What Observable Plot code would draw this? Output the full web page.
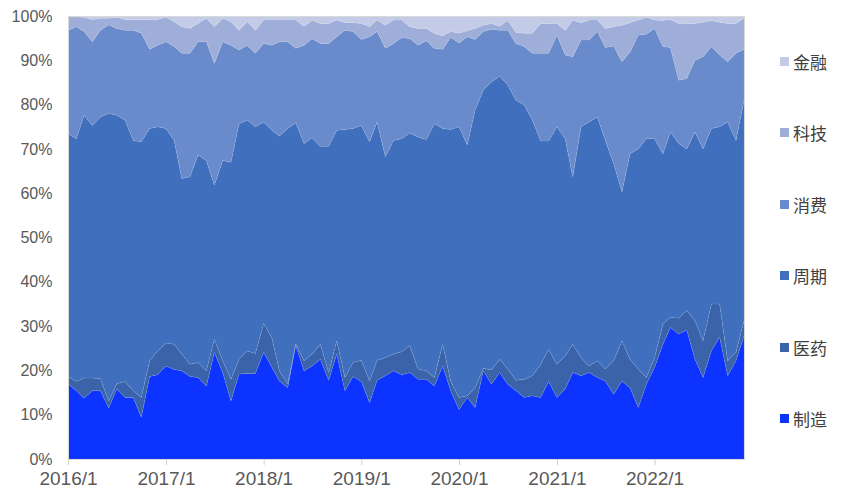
<!DOCTYPE html>
<html><head><meta charset="utf-8">
<script src="https://cdn.jsdelivr.net/npm/d3@7"></script>
<script src="https://cdn.jsdelivr.net/npm/@observablehq/plot@0.6"></script>
<style>
body{margin:0;background:#fff;}
#wrap{position:relative;width:843px;height:498px;}
.leg{position:absolute;left:780px;height:20px;font:17px "Noto Sans CJK SC",sans-serif;color:#404040;display:flex;align-items:center;}
.sw{width:9px;height:9px;margin-right:4px;}
</style></head><body><div id="wrap"></div>
<script>
const seriesNames = ["制造","医药","周期","消费","科技","金融"];
const seriesColors = ["#0c33ff","#3a63aa","#3f6fbd","#6a8bcb","#9eaed9","#c3cbe6"];
const yearTickLabels = ["2016/1","2017/1","2018/1","2019/1","2020/1","2021/1","2022/1"];
const yTickLabels = ["0%","10%","20%","30%","40%","50%","60%","70%","80%","90%","100%"];

// monthly shares (%), 2016/1 .. 2022/12
const manufacturing = [17.0,15.4,13.7,15.4,15.4,11.5,15.8,13.9,13.9,9.4,18.6,19.0,
21.0,20.2,19.9,18.6,18.4,16.5,24.1,19.5,13.1,19.2,19.3,19.3,
24.1,20.7,17.6,16.1,25.6,19.9,21.0,22.5,17.8,23.7,15.4,18.6,
17.5,12.7,17.8,18.8,19.9,19.0,19.5,18.0,18.0,16.5,21.0,15.4,
11.2,13.9,11.6,19.9,16.9,19.5,16.9,15.4,13.9,14.3,13.9,17.5,
13.9,15.8,19.5,18.8,19.5,18.4,17.6,14.6,17.6,16.1,11.6,16.9,
20.7,25.9,29.7,28.2,29.1,22.5,18.4,24.4,27.5,18.8,22.2,27.8];
const pharma = [1.7,2.1,4.6,2.9,2.7,1.6,1.2,3.6,1.5,4.5,3.6,5.4,
5.2,5.7,3.8,2.8,3.4,3.4,3.0,2.7,4.9,3.3,5.1,4.5,
6.5,6.6,2.3,0.9,0.4,2.3,2.7,3.4,1.7,3.0,3.0,3.2,
4.8,4.9,4.5,4.1,3.8,5.2,6.1,2.3,1.9,1.9,4.9,2.2,
2.7,0.4,4.5,0.6,3.2,3.0,3.4,2.4,4.1,4.5,7.4,7.3,
7.5,7.5,6.4,4.1,1.5,3.8,2.7,7.6,9.1,6.4,8.7,1.5,
2.2,4.6,2.3,3.6,4.4,8.7,8.3,10.6,7.5,3.4,1.9,3.4];
const cyclical = [54.8,54.8,59.3,57.0,59.1,64.9,60.6,59.0,56.5,57.7,52.4,50.6,
48.4,46.0,39.6,42.3,46.8,47.5,34.7,45.2,49.0,53.2,52.1,51.2,
45.5,46.9,53.0,57.6,49.9,49.0,48.8,44.7,51.1,47.5,56.0,52.8,
53.0,54.0,53.8,45.3,48.2,48.1,48.0,52.4,52.2,57.3,48.7,56.8,
61.1,56.6,62.6,62.8,65.0,63.9,64.1,63.2,61.9,57.7,50.5,47.0,
53.6,49.0,37.8,52.1,55.1,55.0,51.6,44.5,33.6,46.4,49.7,53.9,
49.4,38.4,41.8,39.4,36.5,42.6,43.3,39.6,40.0,53.9,47.8,49.8];
const consumer = [23.3,25.3,18.9,18.9,19.6,20.0,19.6,20.3,24.9,24.5,17.9,18.4,
19.6,21.2,28.3,27.9,25.6,26.8,27.5,26.8,26.4,16.6,16.9,16.6,
17.7,19.2,21.3,19.6,16.8,22.2,22.4,23.2,23.2,21.1,22.4,21.9,
19.4,23.7,20.4,24.5,21.9,22.8,21.3,20.7,22.3,17.0,17.9,20.8,
18.9,24.4,16.0,13.2,11.9,10.4,12.4,12.8,13.2,15.1,19.8,19.8,
20.7,18.9,27.1,19.6,18.5,19.3,21.0,26.5,29.4,23.0,25.7,23.6,
24.9,24.2,19.1,14.3,15.9,16.2,20.8,18.5,16.2,13.6,19.7,11.5];
const tech = [3.0,2.2,3.2,5.0,2.7,1.5,2.5,2.4,2.4,3.1,6.7,5.8,
5.6,5.6,6.0,5.6,4.1,5.3,8.3,5.3,5.3,4.5,5.3,5.2,
5.3,5.7,4.9,4.9,6.4,4.3,4.1,4.5,4.5,3.8,1.7,2.0,
3.6,2.3,2.6,5.2,5.3,4.0,2.7,3.8,2.8,3.4,3.0,1.3,
2.2,1.4,2.5,1.4,1.3,0.9,2.2,2.5,3.0,4.5,6.7,6.7,
2.6,5.5,8.3,3.9,4.5,2.6,4.3,4.4,8.2,6.6,3.4,3.8,
1.9,5.9,6.3,12.8,12.3,8.3,7.8,5.9,7.4,8.6,6.7,7.0];
const finance = [0.2,0.2,0.3,0.8,0.5,0.5,0.3,0.8,0.8,0.8,0.8,0.8,
0.2,1.3,2.4,2.8,1.7,0.5,2.4,0.5,1.3,3.2,1.3,3.2,
0.9,0.9,0.9,0.9,0.9,2.3,1.0,1.7,1.7,0.9,1.5,1.5,
1.7,2.4,0.9,2.1,0.9,0.9,2.4,2.8,2.8,3.9,4.5,3.5,
3.9,3.3,2.8,2.1,1.7,2.3,1.0,3.7,3.9,3.9,1.7,1.7,
1.7,3.3,0.9,1.5,0.9,0.9,2.8,2.4,2.1,1.5,0.9,0.3,
0.9,1.0,0.8,1.7,1.8,1.7,1.4,1.0,1.4,1.7,1.7,0.5];

const valueArrays = [manufacturing, pharma, cyclical, consumer, tech, finance];
const months = d3.utcMonth.range(new Date(Date.UTC(2016,0,1)), new Date(Date.UTC(2023,0,1)));
const rows = [];
seriesNames.forEach((s, k) => {
  valueArrays[k].forEach((v, i) => rows.push({date: months[i], series: s, value: v}));
});
const yearTicks = yearTickLabels.map(t => new Date(Date.UTC(+t.split("/")[0], 0, 1)));

const chart = Plot.plot({
  width: 843, height: 498,
  marginLeft: 68, marginRight: 99, marginTop: 16, marginBottom: 39,
  style: {fontFamily: "'Liberation Sans', Arial, sans-serif", background: "#fff"},
  x: {type: "utc", domain: [months[0], months[months.length - 1]]},
  y: {domain: [0, 100]},
  color: {domain: seriesNames, range: seriesColors},
  marks: [
    Plot.areaY(rows, {x: "date", y: "value", z: "series", fill: "series", order: seriesNames,
      stroke: "#ffffff", strokeOpacity: 0.12, strokeWidth: 0.6}),
    Plot.frame({stroke: "#d9d9d9", strokeWidth: 1}),
    Plot.axisX({ticks: yearTicks, tickFormat: (d, i) => yearTickLabels[i], tickSize: 6, tickPadding: 6,
      stroke: "#d0d0d0", fill: "#595959", fontSize: 19, label: null}),
    Plot.axisY({ticks: d3.range(0, 101, 10), tickFormat: (d, i) => yTickLabels[i], tickSize: 0, tickPadding: 16,
      fill: "#595959", fontSize: 16, label: null})
  ]
});
const wrap = document.getElementById("wrap");
wrap.appendChild(chart);
const legendY = [61, 132.5, 204, 275.5, 347, 418.5];
[5,4,3,2,1,0].forEach((k, j) => {
  const d = document.createElement("div");
  d.className = "leg";
  d.style.top = (legendY[j] - 10) + "px";
  d.innerHTML = `<span class="sw" style="background:${seriesColors[k]}"></span><span>${seriesNames[k]}</span>`;
  wrap.appendChild(d);
});
</script></body></html>
